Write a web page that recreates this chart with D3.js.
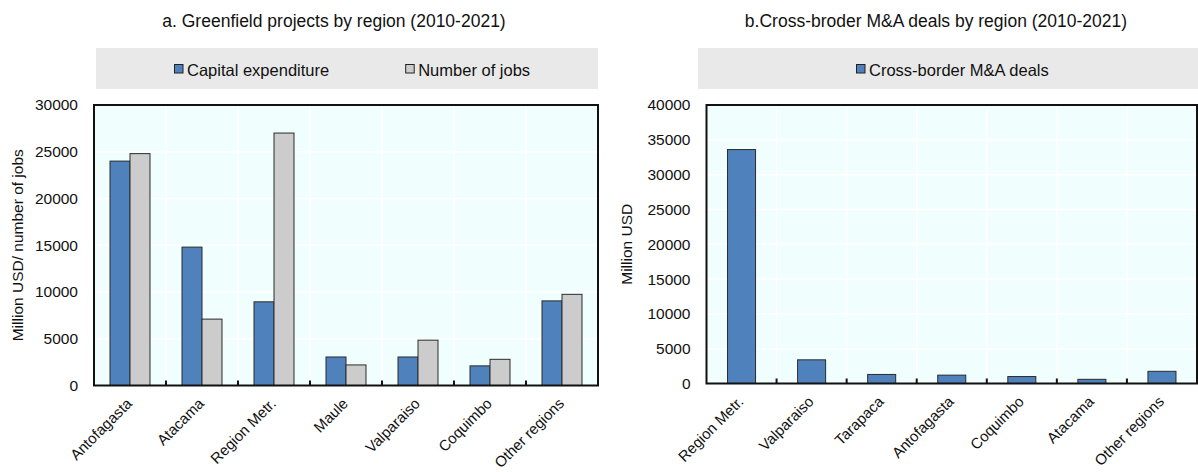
<!DOCTYPE html>
<html>
<head>
<meta charset="utf-8">
<script src="https://cdn.jsdelivr.net/npm/d3@7"></script>
<style>
  body { margin: 0; background: #ffffff; }
  svg text { font-family: "Liberation Sans", Arial, Helvetica, sans-serif; fill: #111; }
</style>
</head>
<body>
<svg id="chart" width="1198" height="472"></svg>
<script>
// Panel a: greenfield projects by region, 2010-2021
const greenfieldRegions = ["Antofagasta", "Atacama", "Region Metr.", "Maule", "Valparaiso", "Coquimbo", "Other regions"];
const capitalExpenditure = [24000, 14800, 8950, 3050, 3050, 2100, 9050];
const numberOfJobs = [24800, 7100, 27000, 2200, 4850, 2800, 9750];
const greenfieldTicks = [0, 5000, 10000, 15000, 20000, 25000, 30000];

// Panel b: cross-border M&A deals by region, 2010-2021
const mnaRegions = ["Region Metr.", "Valparaiso", "Tarapaca", "Antofagasta", "Coquimbo", "Atacama", "Other regions"];
const mnaDeals = [33600, 3400, 1300, 1200, 1000, 600, 1750];
const mnaTicks = [0, 5000, 10000, 15000, 20000, 25000, 30000, 35000, 40000];

const BLUE = "#4f81bd";
const GREY = "#cccccc";

const svg = d3.select("#chart");

function drawPanel(p) {
  const g = svg.append("g");

  // title
  g.append("text")
    .attr("x", p.titleX).attr("y", 27)
    .attr("text-anchor", "middle")
    .style("font-size", "17.5px")
    .text(p.title);

  // legend band
  g.append("rect")
    .attr("x", p.legend.x0).attr("y", 48)
    .attr("width", p.legend.x1 - p.legend.x0).attr("height", 41)
    .attr("fill", "#e9e9e9");

  const leg = g.append("g").attr("transform", `translate(${p.legend.start},0)`);
  let lx = 0;
  p.series.forEach(s => {
    leg.append("rect")
      .attr("x", lx + 0.5).attr("y", 64.5)
      .attr("width", 8.5).attr("height", 8.5)
      .attr("fill", s.color).attr("stroke", "#222").attr("stroke-width", 1);
    const t = leg.append("text")
      .attr("x", lx + 13).attr("y", 75.5)
      .style("font-size", "16.5px")
      .text(s.name);
    lx += 13 + t.node().getComputedTextLength() + p.legend.gap;
  });

  // scales
  const x0 = d3.scaleBand()
    .domain(p.categories)
    .range([p.left, p.right])
    .paddingInner(p.padInner)
    .paddingOuter(p.padInner / 2);
  const x1 = d3.scaleBand()
    .domain(p.series.map(s => s.name))
    .range([0, x0.bandwidth()]);
  const y = d3.scaleLinear()
    .domain([0, d3.max(p.ticks)])
    .range([p.bottom, p.top]);

  // plot background
  g.append("rect")
    .attr("x", p.left).attr("y", p.top)
    .attr("width", p.right - p.left).attr("height", p.bottom - p.top)
    .attr("fill", "#f0fefe");

  // white grid: horizontal at ticks, vertical between categories
  g.append("g").selectAll("line").data(p.ticks).join("line")
    .attr("x1", p.left).attr("x2", p.right)
    .attr("y1", d => y(d)).attr("y2", d => y(d))
    .attr("stroke", "#ffffff").attr("stroke-width", 1.5);

  const step = x0.step();
  const bounds = p.categories.slice(1).map(c => x0(c) - (step - x0.bandwidth()) / 2);
  g.append("g").selectAll("line").data(bounds).join("line")
    .attr("x1", d => d).attr("x2", d => d)
    .attr("y1", p.top).attr("y2", p.bottom)
    .attr("stroke", "#ffffff").attr("stroke-width", 1.5);

  // bars
  p.series.forEach(s => {
    g.append("g").selectAll("rect").data(p.categories).join("rect")
      .attr("x", (c, i) => x0(c) + x1(s.name))
      .attr("y", (c, i) => y(s.values[i]))
      .attr("width", x1.bandwidth())
      .attr("height", (c, i) => y(0) - y(s.values[i]))
      .attr("fill", s.color)
      .attr("stroke", "#2b2b2b").attr("stroke-width", 1);
  });

  // frame
  g.append("rect")
    .attr("x", p.left).attr("y", p.top)
    .attr("width", p.right - p.left).attr("height", p.bottom - p.top)
    .attr("fill", "none").attr("stroke", "#111").attr("stroke-width", 2);

  // inward category ticks on the x axis
  g.append("g").selectAll("line").data(bounds).join("line")
    .attr("x1", d => d).attr("x2", d => d)
    .attr("y1", p.bottom).attr("y2", p.bottom - 5)
    .attr("stroke", "#111").attr("stroke-width", 2);

  // y axis labels (no tick marks)
  const yAxis = d3.axisLeft(y).tickValues(p.ticks).tickSize(0).tickPadding(16).tickFormat(d3.format("d"));
  const ya = g.append("g").attr("transform", `translate(${p.left},0)`).call(yAxis);
  ya.select(".domain").remove();
  ya.selectAll("text")
    .style("font-size", "15.5px")
    .style("font-family", "\"Liberation Sans\", Arial, sans-serif")
    .attr("fill", "#111");

  // x axis labels, rotated
  const xAxis = d3.axisBottom(x0).tickSize(0).tickPadding(0);
  const xa = g.append("g").attr("transform", `translate(0,${p.bottom})`).call(xAxis);
  xa.select(".domain").remove();
  xa.selectAll(".tick text")
    .style("font-size", "15px")
    .style("font-family", "\"Liberation Sans\", Arial, sans-serif")
    .attr("fill", "#111")
    .attr("text-anchor", "end")
    .attr("dy", null)
    .attr("y", 0)
    .attr("transform", "translate(3,19) rotate(-45)");

  // y axis title
  g.append("text")
    .attr("transform", `translate(${p.yTitleX},${(p.top + p.bottom) / 2}) rotate(-90)`)
    .attr("text-anchor", "middle")
    .style("font-size", "15.5px")
    .text(p.yTitle);
}

drawPanel({
  title: "a. Greenfield projects by region (2010-2021)",
  titleX: 334,
  legend: { x0: 96, x1: 598, start: 174, gap: 76 },
  categories: greenfieldRegions,
  series: [
    { name: "Capital expenditure", values: capitalExpenditure, color: BLUE },
    { name: "Number of jobs", values: numberOfJobs, color: GREY }
  ],
  ticks: greenfieldTicks,
  left: 94, right: 598, top: 105, bottom: 385.5,
  padInner: 32 / 72,
  yTitle: "Million USD/ number of jobs",
  yTitleX: 23
});

drawPanel({
  title: "b.Cross-broder M&A deals by region (2010-2021)",
  titleX: 936,
  legend: { x0: 698, x1: 1198, start: 856, gap: 76 },
  categories: mnaRegions,
  series: [
    { name: "Cross-border M&A deals", values: mnaDeals, color: BLUE }
  ],
  ticks: mnaTicks,
  left: 706.5, right: 1197, top: 105, bottom: 383.5,
  padInner: 0.6,
  yTitle: "Million USD",
  yTitleX: 632
});
</script>
</body>
</html>
